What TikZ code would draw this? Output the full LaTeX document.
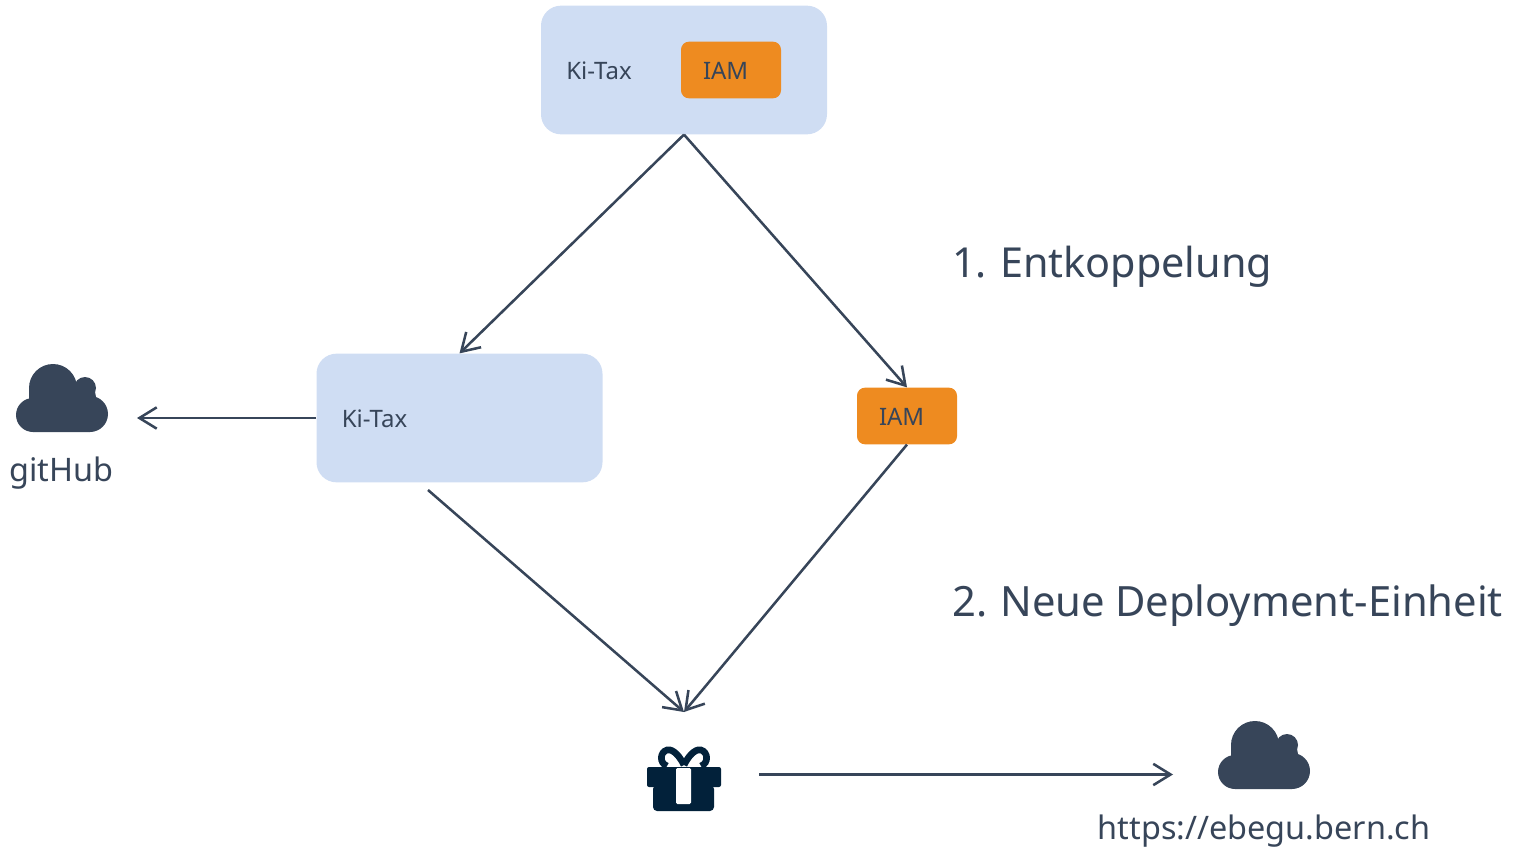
\documentclass[tikz,border=0pt]{standalone}
\usepackage{fontspec}
\setmainfont{Noto Sans}[WordSpace=0.9]
\usetikzlibrary{arrows.meta}
\definecolor{slate}{HTML}{374559}
\definecolor{navy}{HTML}{02213A}
\definecolor{paleblue}{HTML}{CFDDF3}
\definecolor{iamorange}{HTML}{EE8B20}
\begin{document}
\begin{tikzpicture}[x=0.75pt,y=-0.75pt]
        \tikzset{myptr/.style={draw=slate,line width=1.9pt,-{Straight Barb[length=13pt,width=16pt,line width=1.9pt]}}}
        \tikzset{kibox/.style={fill=paleblue,rounded corners=15pt,minimum height=96.5pt,inner xsep=19pt,text width=176.5pt,text height=14.3pt,align=left,text=slate,font=\fontsize{18}{22}\selectfont}}
        \tikzset{iambox/.style={fill=iamorange,rounded corners=6pt,minimum height=42.5pt,inner xsep=16.5pt,text width=42pt,text height=14.3pt,align=left,text=slate,font=\fontsize{18}{22}\selectfont}}
        \tikzset{bigtext/.style={text=slate,inner sep=0pt,font=\fontsize{31}{37}\selectfont}}
        \tikzset{smalltext/.style={text=slate,inner sep=0pt,font=\fontsize{24.3}{30}\selectfont}}
        \tikzset{cloudicon/.pic={
            \fill[slate] (-9,-10) circle (24);
            \fill[slate] (23,-10) circle (11);
            \fill[slate] (-29,17) circle (17);
            \fill[slate] (28,16) circle (18);
            \fill[slate] (-33,-10) -- (-9,-10) -- (23,-10) -- (33,-6) -- (34,-1) -- (28,34) -- (-29,34) -- (-33,1) -- cycle;
        }}
        \useasboundingbox (0,0) rectangle (1518,849);
        \node (topbox) at (684,70) [kibox] {Ki-Tax};
        \node (topiam) at (731,70) [iambox] {IAM};
        \node (leftbox) at (459.5,418) [kibox] {Ki-Tax};
        \node (rightiam) at (907,416) [iambox] {IAM};
        \node (step1) at (952,267) [bigtext,anchor=west] {1. Entkoppelung};
        \node (step2) at (952,606) [bigtext,anchor=west,font=\fontsize{31.3}{37}\selectfont] {2. Neue Deployment-Einheit};
        \pic at (62,398) {cloudicon};
        \pic at (1264,755) {cloudicon};
        \node (github) at (61.5,473) [smalltext] {gitHub};
        \node (url) at (1264,831) [smalltext] {https://ebegu.bern.ch};
        % gift
        \fill[navy,rounded corners=1.5pt] (647,767) rectangle (721,787);
        \fill[navy,rounded corners=3pt] (653,785) rectangle (714,811);
        \draw[navy,line width=5pt] (684,765) .. controls (677,751) and (670,749) .. (667,750) .. controls (660,752) and (659,763) .. (667,766);
        \draw[navy,line width=5pt] (684,765) .. controls (691,751) and (698,749) .. (701,750) .. controls (708,752) and (709,763) .. (701,766);
        \fill[white,rounded corners=1pt] (676,768) rectangle (691,804);
        \coordinate (giftin) at (684,712);
        \coordinate (giftout) at (759,774.5);
        \coordinate (leftout) at (428,490);
        \coordinate (cloudleft) at (137,418);
        \coordinate (cloudright) at (1173,774.5);
        \draw [myptr] (topbox.south) -- (leftbox.north);
        \draw [myptr] (topbox.south) -- (rightiam.north);
        \draw [myptr] (leftbox.west) -- (cloudleft);
        \draw [myptr] (leftout) -- (giftin);
        \draw [myptr] (rightiam.south) -- (giftin);
        \draw [myptr] (giftout) -- (cloudright);
    \end{tikzpicture}
\end{document}
